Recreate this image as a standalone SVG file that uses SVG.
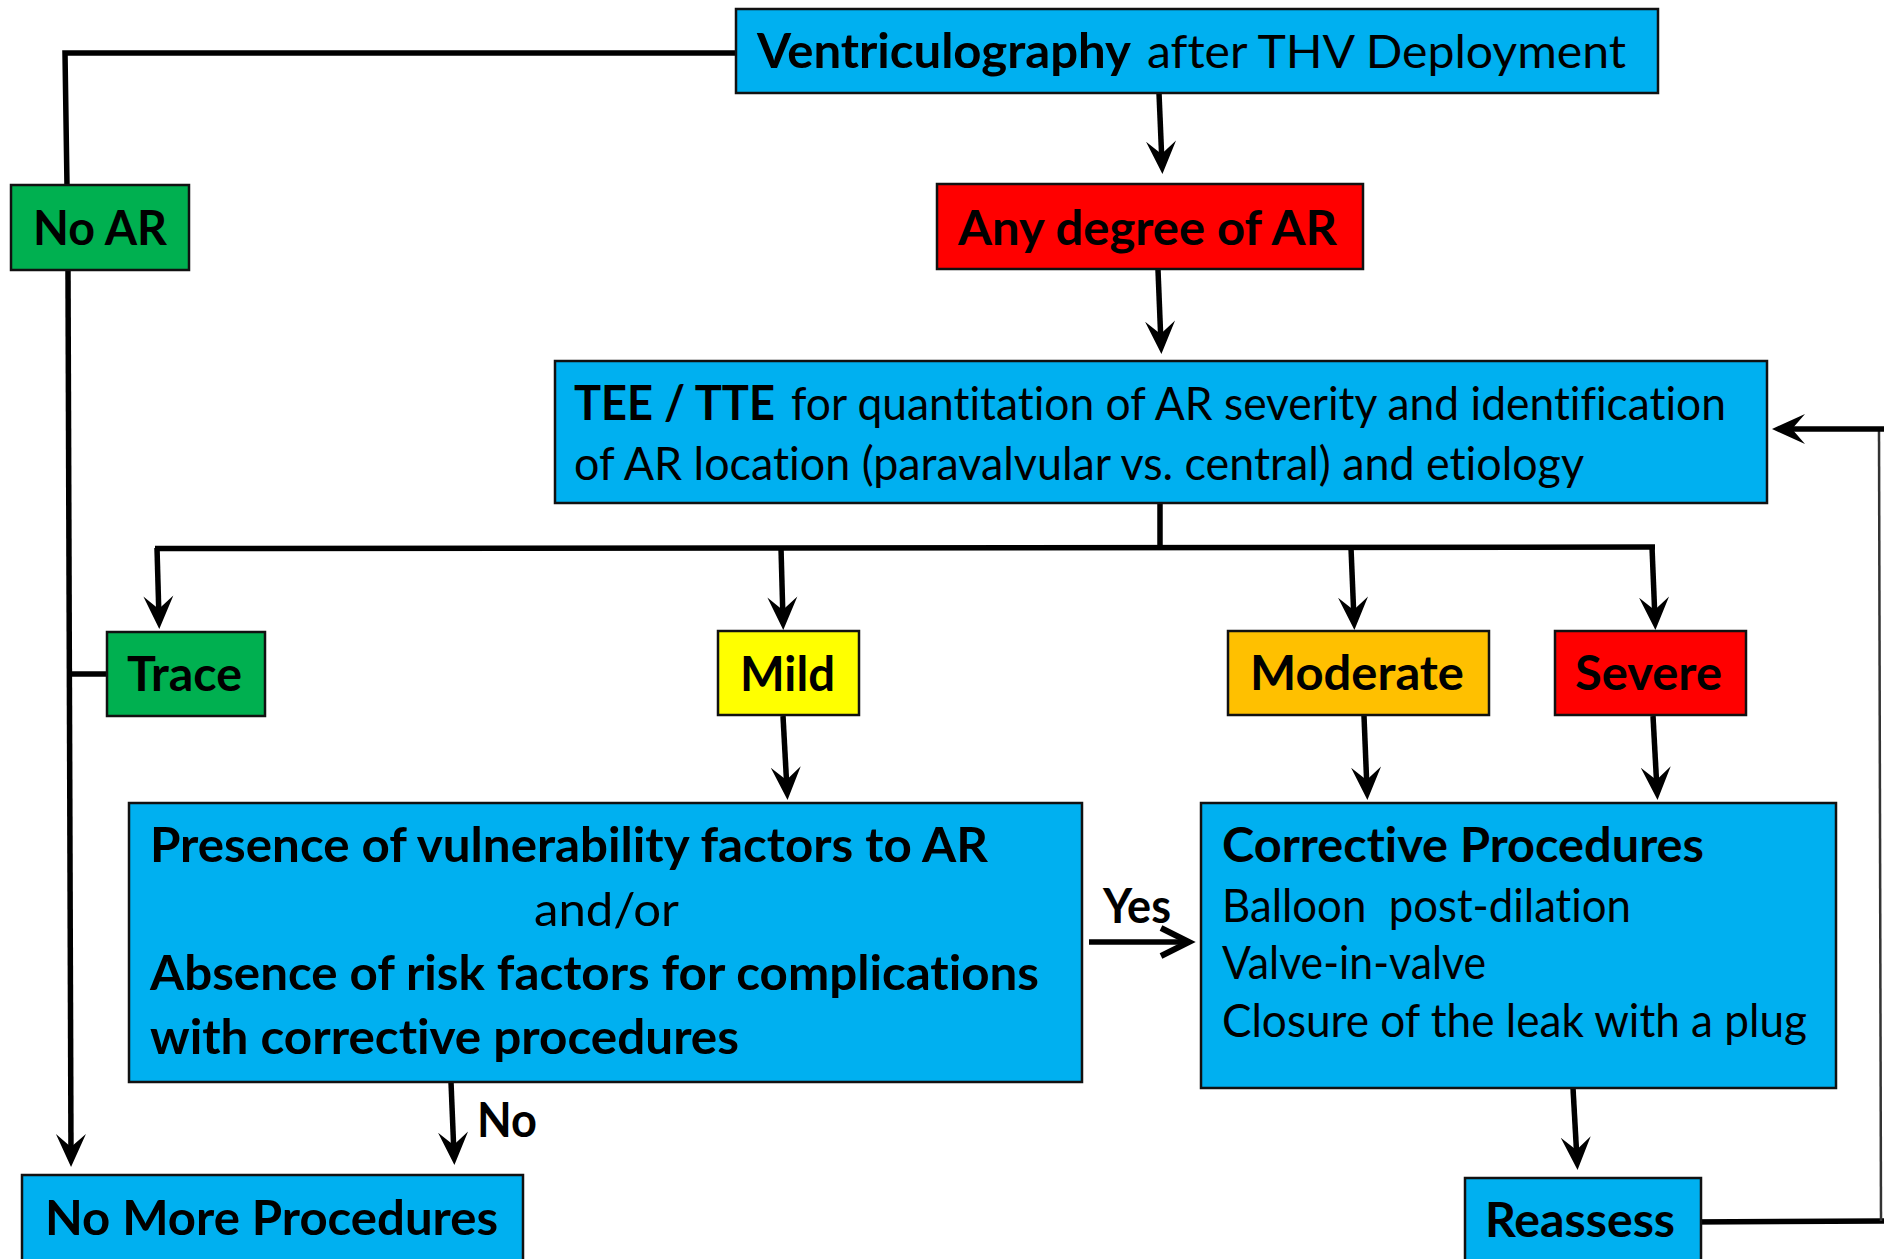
<svg xmlns="http://www.w3.org/2000/svg" width="1884" height="1259" viewBox="0 0 1884 1259">
  <style>
    .box { stroke: #111; stroke-width: 2.5; }
    .blue { fill: #00B0F0; }
    .green { fill: #00B050; }
    .red { fill: #FF0000; }
    .yellow { fill: #FFFF00; }
    .orange { fill: #FFC000; }
    text { font-family: Lato, "Liberation Sans", sans-serif; font-size: 47px; fill: #000; font-variant-ligatures: none; }
    .b { font-weight: 700; }
    .n { font-weight: 400; }
    .wire { fill: none; stroke: #000; stroke-width: 5.5; stroke-linejoin: miter; }
    .arrow { marker-end: url(#stealth); }
  </style>
  <defs>
    <marker id="stealth" markerUnits="userSpaceOnUse" markerWidth="40" markerHeight="40" refX="23" refY="0" orient="auto" overflow="visible">
      <path d="M0,-15 L33,0 L0,15 L13,0 Z" fill="#000"/>
    </marker>
    <marker id="chevron" markerUnits="userSpaceOnUse" markerWidth="40" markerHeight="40" refX="0" refY="0" orient="auto" overflow="visible">
      <path d="M-28,-14 L0,0 L-28,14" fill="none" stroke="#000" stroke-width="6"/>
    </marker>
  </defs>

  <!-- connectors -->
  <g id="connectors">
    <polyline class="wire" points="736,53 65,53 67,186"/>
    <line class="wire arrow" x1="68" y1="270" x2="71" y2="1157"/>
    <line class="wire" x1="68" y1="674" x2="108" y2="674"/>
    <line class="wire arrow" x1="1159" y1="93" x2="1162" y2="164"/>
    <line class="wire arrow" x1="1158" y1="270" x2="1161" y2="344"/>
    <line class="wire" x1="1160" y1="503" x2="1160" y2="548"/>
    <line class="wire" x1="155" y1="548.5" x2="1655" y2="547"/>
    <line class="wire arrow" x1="157" y1="548" x2="159" y2="619"/>
    <line class="wire arrow" x1="781" y1="548" x2="783" y2="620"/>
    <line class="wire arrow" x1="1351" y1="548" x2="1354" y2="620"/>
    <line class="wire arrow" x1="1652" y1="547" x2="1655" y2="620"/>
    <line class="wire arrow" x1="783" y1="716" x2="787" y2="790"/>
    <line class="wire arrow" x1="1364" y1="716" x2="1367" y2="790"/>
    <line class="wire arrow" x1="1653" y1="716" x2="1657" y2="790"/>
    <line class="wire" x1="1089" y1="942" x2="1189" y2="942" stroke-width="7" marker-end="url(#chevron)"/>
    <line class="wire arrow" x1="451" y1="1082" x2="454" y2="1155"/>
    <line class="wire arrow" x1="1573" y1="1088" x2="1577" y2="1160"/>
    <line class="wire" x1="1686" y1="1222" x2="1884" y2="1221" stroke-width="6"/>
    <line x1="1881" y1="1221" x2="1879" y2="429" stroke="#333" stroke-width="2.5"/>
    <line class="wire arrow" x1="1884" y1="429" x2="1782" y2="429" stroke-width="6"/>
  </g>

  <g id="node-ventriculography">
    <rect class="box blue" x="736" y="9" width="922" height="84"/>
    <text class="b" x="757" y="68" textLength="374" lengthAdjust="spacingAndGlyphs">Ventriculography</text>
    <text class="n" x="1147" y="68" textLength="479" lengthAdjust="spacingAndGlyphs">after THV Deployment</text>
  </g>

  <g id="node-no-ar">
    <rect class="box green" x="11" y="185" width="178" height="85"/>
    <text class="b" x="33" y="245" textLength="134" lengthAdjust="spacingAndGlyphs">No AR</text>
  </g>

  <g id="node-any-degree">
    <rect class="box red" x="937" y="184" width="426" height="85"/>
    <text class="b" x="958" y="245" textLength="379" lengthAdjust="spacingAndGlyphs">Any degree of AR</text>
  </g>

  <g id="node-tee-tte">
    <rect class="box blue" x="555" y="361" width="1212" height="142"/>
    <text class="b" x="574" y="420" textLength="201" lengthAdjust="spacingAndGlyphs">TEE / TTE</text>
    <text class="n" x="791" y="420" textLength="935" lengthAdjust="spacingAndGlyphs">for quantitation of AR severity and identification</text>
    <text class="n" x="574" y="480" textLength="1010" lengthAdjust="spacingAndGlyphs">of AR location (paravalvular vs. central) and etiology</text>
  </g>

  <g id="node-trace">
    <rect class="box green" x="107" y="632" width="158" height="84"/>
    <text class="b" x="127" y="691" textLength="115" lengthAdjust="spacingAndGlyphs">Trace</text>
  </g>

  <g id="node-mild">
    <rect class="box yellow" x="718" y="631" width="141" height="84"/>
    <text class="b" x="740" y="691" textLength="95" lengthAdjust="spacingAndGlyphs">Mild</text>
  </g>

  <g id="node-moderate">
    <rect class="box orange" x="1228" y="631" width="261" height="84"/>
    <text class="b" x="1250" y="690" textLength="214" lengthAdjust="spacingAndGlyphs">Moderate</text>
  </g>

  <g id="node-severe">
    <rect class="box red" x="1555" y="631" width="191" height="84"/>
    <text class="b" x="1575" y="690" textLength="147" lengthAdjust="spacingAndGlyphs">Severe</text>
  </g>

  <g id="node-vulnerability">
    <rect class="box blue" x="129" y="803" width="953" height="279"/>
    <text class="b" x="150" y="862" textLength="838" lengthAdjust="spacingAndGlyphs">Presence of vulnerability factors to AR</text>
    <text class="n" x="534" y="926" textLength="145" lengthAdjust="spacingAndGlyphs">and/or</text>
    <text class="b" x="150" y="990" textLength="889" lengthAdjust="spacingAndGlyphs">Absence of risk factors for complications</text>
    <text class="b" x="150" y="1054" textLength="589" lengthAdjust="spacingAndGlyphs">with corrective procedures</text>
  </g>

  <g id="node-corrective">
    <rect class="box blue" x="1201" y="803" width="635" height="285"/>
    <text class="b" x="1222" y="862" textLength="482" lengthAdjust="spacingAndGlyphs">Corrective Procedures</text>
    <text class="n" x="1222" y="922" textLength="409" lengthAdjust="spacingAndGlyphs" xml:space="preserve">Balloon  post-dilation</text>
    <text class="n" x="1222" y="979" textLength="264" lengthAdjust="spacingAndGlyphs">Valve-in-valve</text>
    <text class="n" x="1222" y="1037" textLength="585" lengthAdjust="spacingAndGlyphs">Closure of the leak with a plug</text>
  </g>

  <g id="label-yes">
    <text class="b" x="1103" y="923" textLength="68" lengthAdjust="spacingAndGlyphs">Yes</text>
  </g>

  <g id="label-no">
    <text class="b" x="477" y="1137" textLength="60" lengthAdjust="spacingAndGlyphs">No</text>
  </g>

  <g id="node-no-more">
    <rect class="box blue" x="22" y="1175" width="501" height="110"/>
    <text class="b" x="45" y="1235" textLength="453" lengthAdjust="spacingAndGlyphs">No More Procedures</text>
  </g>

  <g id="node-reassess">
    <rect class="box blue" x="1465" y="1178" width="236" height="110"/>
    <text class="b" x="1485" y="1237" textLength="190" lengthAdjust="spacingAndGlyphs">Reassess</text>
  </g>
</svg>
